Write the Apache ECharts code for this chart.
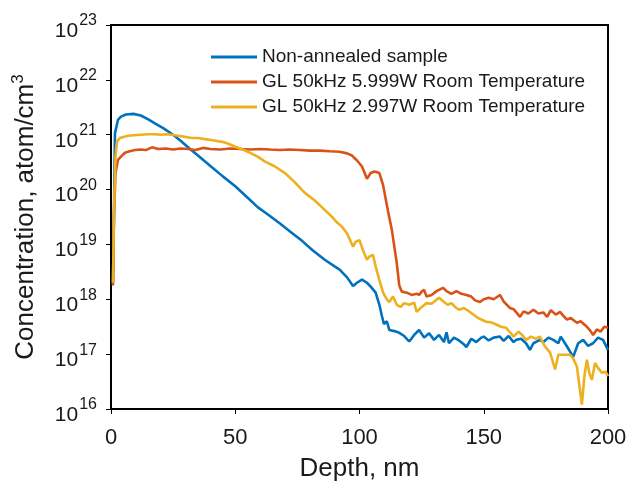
<!DOCTYPE html>
<html>
<head>
<meta charset="utf-8">
<script src="https://cdn.jsdelivr.net/npm/echarts@6/dist/echarts.min.js"></script>
<style>html,body{margin:0;padding:0;background:#fff}#c{width:629px;height:483px}</style>
</head>
<body>
<div id="c"></div>
<script>
var seriesNames = ['Non-annealed sample', 'GL 50kHz 5.999W Room Temperature', 'GL 50kHz 2.997W Room Temperature'];
var xTicks = [0, 50, 100, 150, 200];
var yMin = 1e16, yMax = 1e23;

var blueDepth = [0.8,1.2,1.6,2.8,4,6,9,12,15,18,21,25,28,31.8,35,40,45,50,55,59,63,68,72.8,77,81,86,90,92,95,97.4,99,101,103,104.5,106.5,108,109,109.8,111,112,114,116,118,120,122,124,126,128,130,132,134,135,136,138,140,142,143,145,147,149,150,152,154,156.5,158,160,162,163,165,167,168.6,170,172.6,174,176,178,180,181,183.5,186,188,190,192,194,196,198,200];
var blueConc = [2.0e18,3.98e19,1.07e21,1.86e21,2.14e21,2.34e21,2.4e21,2.24e21,1.91e21,1.58e21,1.32e21,1.0e21,7.76e20,5.5e20,4.17e20,2.69e20,1.74e20,1.15e20,7.08e19,4.79e19,3.55e19,2.4e19,1.62e19,1.15e19,7.94e18,5.25e18,3.98e18,3.47e18,2.51e18,1.74e18,2.0e18,2.29e18,2.0e18,1.70e18,1.32e18,7.94e17,5.01e17,3.55e17,3.98e17,2.75e17,2.63e17,2.45e17,2.14e17,1.70e17,2.24e17,2.75e17,2.0e17,2.4e17,1.82e17,2.24e17,1.66e17,2.51e17,1.58e17,2.0e17,1.78e17,1.51e17,1.35e17,1.91e17,1.66e17,2.0e17,2.09e17,1.78e17,2.0e17,2.09e17,1.74e17,2.14e17,1.66e17,1.82e17,1.91e17,1.58e17,1.2e17,1.58e17,1.82e17,1.66e17,2.0e17,1.82e17,1.58e17,2.09e17,1.38e17,8.91e16,1.58e17,1.82e17,1.41e17,1.58e17,2.0e17,1.82e17,1.2e17];

var orangeDepth = [0.8,1.2,1.8,2.8,4,5.6,7.5,9.7,12,14,16.5,19,22,25,28,31,34,37,40,44,48,52,56,60,64,68,72,76,80,84,88,92,95,97,99,101,103,104.5,106,108,109.5,111.5,113,115,116,117,119,121,123,124,125,126,127,129,131,133.6,135,137,139,141,143,145,146.5,148.5,150,152,154,156.5,158,160.6,162,164.6,166,168,170,172,174,175.5,177,179,180.7,182,183.5,185,187.5,189,191.5,193,194,195.5,197,198.5,200];
var orangeConc = [1.78e18,3.16e19,2.0e20,3.47e20,3.98e20,4.68e20,5.01e20,5.25e20,5.37e20,5.25e20,5.89e20,5.5e20,5.62e20,5.37e20,5.62e20,5.5e20,5.25e20,5.75e20,5.5e20,5.37e20,5.62e20,5.5e20,5.37e20,5.5e20,5.37e20,5.25e20,5.37e20,5.25e20,5.13e20,5.13e20,5.01e20,4.9e20,4.57e20,4.17e20,3.39e20,2.63e20,1.58e20,2.0e20,2.14e20,2.0e20,1.2e20,3.98e19,1.86e19,4.57e18,1.78e18,1.38e18,1.32e18,1.2e18,1.26e18,1.2e18,1.38e18,1.48e18,1.12e18,1.2e18,1.41e18,1.62e18,1.41e18,1.26e18,1.41e18,1.26e18,1.2e18,1.12e18,9.55e17,8.91e17,1.0e18,1.07e18,1.0e18,1.2e18,9.12e17,6.92e17,6.61e17,4.79e17,6.03e17,5.5e17,6.46e17,5.5e17,5.75e17,4.79e17,6.31e17,5.25e17,5.89e17,5.01e17,4.27e17,4.57e17,3.72e17,3.98e17,3.16e17,2.63e17,2.24e17,2.82e17,2.57e17,3.16e17,3.02e17];

var yellowDepth = [0.8,1.2,1.8,2.4,3.6,5,6.8,9,12,15,17.7,20,22,24.5,27,30,32.6,35,37.8,41,44.7,47,50,53,56,59,62,66,70,74,78,82,86,89,91,93,95,97.4,98.5,100,101.5,103,104,105.4,106.5,108,109.5,111,112,113.5,115,116.5,118,120,122,123,125,127,129,131,132,134,135.5,137,138.5,140,142,143.5,145,147,149,151,153,155,157,159,160.5,162,164,165.5,167,169,171,172.6,174.6,176.7,178.7,180,182,184.7,186,187.5,189.5,190.5,191.5,192.5,193.5,194.8,196,197.5,199,200];
var yellowConc = [2.0e18,3.98e19,3.98e20,7.59e20,8.71e20,9.12e20,9.55e20,9.77e20,1.0e21,1.02e21,1.02e21,1.0e21,1.02e21,1.0e21,9.55e20,9.12e20,8.71e20,8.71e20,8.32e20,7.94e20,7.41e20,6.92e20,6.03e20,5.37e20,4.68e20,3.98e20,3.24e20,2.63e20,2.0e20,1.35e20,8.71e19,6.31e19,4.27e19,3.16e19,2.51e19,2.09e19,1.58e19,9.12e18,1.12e19,1.2e19,7.59e18,5.25e18,6.03e18,6.46e18,3.98e18,2.24e18,1.32e18,1.0e18,8.91e17,1.12e18,7.94e17,7.24e17,8.51e17,7.94e17,8.71e17,5.89e17,7.24e17,8.51e17,8.32e17,9.77e17,1.07e18,8.91e17,7.94e17,8.51e17,7.24e17,6.46e17,6.92e17,6.31e17,5.62e17,4.79e17,4.27e17,3.89e17,3.8e17,3.47e17,3.16e17,3.02e17,2.51e17,2.09e17,2.57e17,2.24e17,1.82e17,2.09e17,1.91e17,2.09e17,1.38e17,1.07e17,5.25e16,9.77e16,9.77e16,9.77e16,8.32e16,5.89e16,1.2e16,3.98e16,7.94e16,4.47e16,3.39e16,6.92e16,5.62e16,4.57e16,4.79e16,3.98e16];

function zip(a, b) { return a.map(function (v, i) { return [v, b[i]]; }); }

var FONT = 'Liberation Sans, Arial, sans-serif';
var chart = echarts.init(document.getElementById('c'), null, {renderer: 'canvas'});
chart.setOption({
  animation: false,
  backgroundColor: '#fff',
  grid: {left: 111, right: 21, top: 25, bottom: 74, containLabel: false, outerBoundsMode: 'none',
    show: true, borderColor: '#000', borderWidth: 2, backgroundColor: 'transparent'},
  legend: {
    orient: 'vertical', left: 206, top: 42,
    icon: 'rect', itemWidth: 46, itemHeight: 3, itemGap: 5,
    textStyle: {fontFamily: FONT, fontSize: 19, color: '#1a1a1a', lineHeight: 20},
    data: seriesNames
  },
  xAxis: {
    type: 'value', min: xTicks[0], max: xTicks[xTicks.length - 1], interval: 50,
    name: 'Depth, nm', nameLocation: 'middle', nameGap: 47,
    nameTextStyle: {fontFamily: FONT, fontSize: 26, color: '#1a1a1a'},
    axisLine: {lineStyle: {color: '#000', width: 2}},
    axisTick: {inside: false, length: 5, lineStyle: {color: '#000', width: 1}},
    axisLabel: {fontFamily: FONT, fontSize: 22, color: '#1a1a1a', margin: 18},
    splitLine: {show: false}
  },
  yAxis: {
    type: 'log', logBase: 10, min: yMin, max: yMax,
    name: 'Concentration, atom/cm{s|3}', nameLocation: 'middle', nameGap: 70,
    nameTextStyle: {fontFamily: FONT, fontSize: 26, color: '#1a1a1a',
      rich: {s: {fontFamily: FONT, fontSize: 17, color: '#1a1a1a', padding: [0, 0, 14, 0]}}},
    axisLine: {lineStyle: {color: '#000', width: 2}},
    axisTick: {inside: false, length: 5, lineStyle: {color: '#000', width: 1}},
    axisLabel: {
      margin: 14,
      formatter: function (v) { return '{b|10}{s|' + Math.round(Math.log10(v)) + '}'; },
      rich: {
        b: {fontFamily: FONT, fontSize: 21, color: '#1a1a1a', padding: [12, 0, 0, 0]},
        s: {fontFamily: FONT, fontSize: 16, color: '#1a1a1a', padding: [0, 0, 8, 1]}
      }
    },
    splitLine: {show: false}
  },
  series: [
    {name: seriesNames[0], type: 'line', data: zip(blueDepth, blueConc), showSymbol: false, lineStyle: {color: '#0072BD', width: 2.6}, itemStyle: {color: '#0072BD'}},
    {name: seriesNames[1], type: 'line', data: zip(orangeDepth, orangeConc), showSymbol: false, lineStyle: {color: '#D95319', width: 2.6}, itemStyle: {color: '#D95319'}},
    {name: seriesNames[2], type: 'line', data: zip(yellowDepth, yellowConc), showSymbol: false, lineStyle: {color: '#EDB120', width: 2.6}, itemStyle: {color: '#EDB120'}}
  ]
});
</script>
</body>
</html>
